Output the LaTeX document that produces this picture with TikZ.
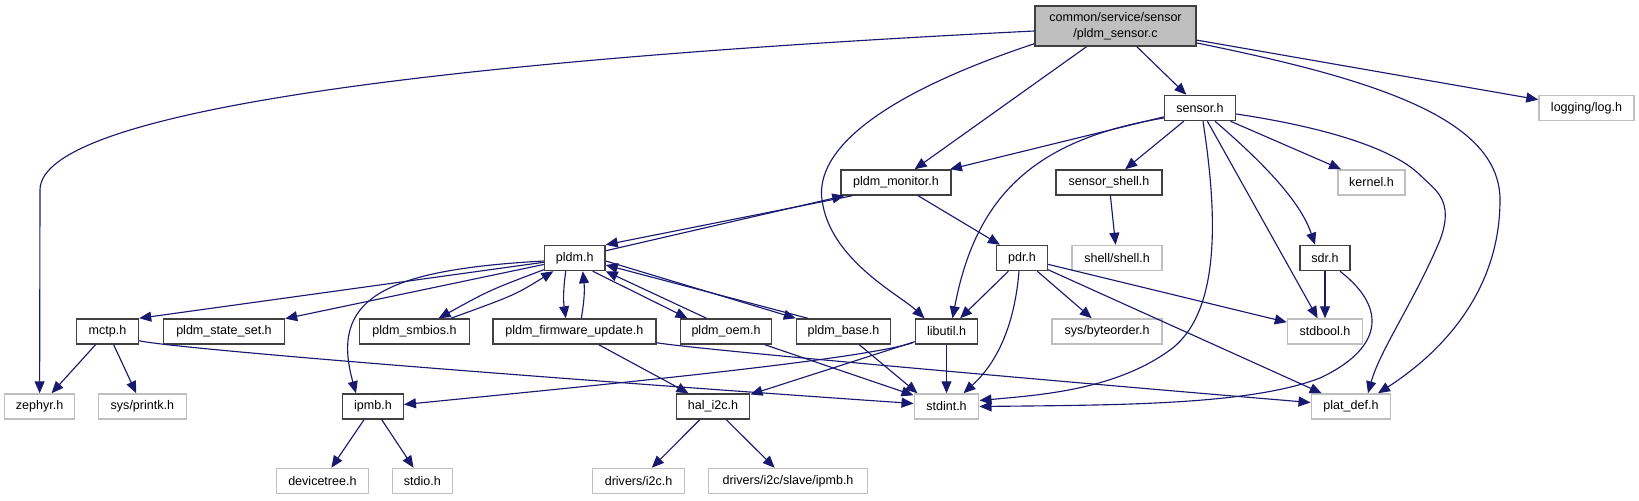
\documentclass[tikz,border=0pt]{standalone}
\usepackage{fontspec}
\setmainfont{Liberation Sans}
\usepackage{xcolor}
\definecolor{edge}{HTML}{191970}
\definecolor{frame}{HTML}{404040}
\definecolor{muted}{HTML}{BFBFBF}
\usepackage{tikz}
\usetikzlibrary{arrows.meta}

\begin{document}
\begin{tikzpicture}[x=0.75pt,y=-0.75pt,font=\fontsize{9.4}{12}\selectfont,
  box/.style={draw,rectangle,inner sep=0pt,minimum height=18.75pt,line width=1.1pt},
  doc/.style={box,draw=frame},
  ext/.style={box,draw=muted},
  dep/.style={edge,line width=0.85pt,-{Triangle[length=9pt,width=7.5pt]}}]
  \useasboundingbox (0,0) rectangle (1639,500);
  \node[doc,fill=muted,minimum width=161*0.75pt,minimum height=30pt,align=center] (root) at (1115.5,26) {common/service/sensor\\/pldm\_sensor.c};
  \foreach \nm/\cx/\cy/\w/\txt/\st in {
    sensor/1200/108/71/sensor.h/doc,
    loglog/1586.5/108/95/{logging/log.h}/ext,
    monitor/896/182.5/110/pldm\_monitor.h/doc,
    shell/1109/182.5/106/sensor\_shell.h/doc,
    kernel/1371.5/182.5/67/kernel.h/ext,
    pldm/574.75/258/60.5/pldm.h/doc,
    pdr/1022/258/50.5/pdr.h/doc,
    shellsh/1117/258/90/{shell/shell.h}/ext,
    sdr/1325/258/50/sdr.h/doc,
    mctp/107.5/331.5/62/mctp.h/doc,
    stateset/224/331.5/121/pldm\_state\_set.h/doc,
    smbios/414.5/331.5/109.5/pldm\_smbios.h/doc,
    fwupd/574.3/331.5/163/pldm\_firmware\_update.h/doc,
    oem/726/331.5/91.5/pldm\_oem.h/doc,
    base/843.5/331.5/94/pldm\_base.h/doc,
    libutil/946.5/331.5/62/libutil.h/doc,
    byteorder/1107/331.5/110/{sys/byteorder.h}/ext,
    stdbool/1325/331.5/75/stdbool.h/ext,
    zephyr/39.6/406.5/70/zephyr.h/ext,
    printk/142.4/406.5/88/{sys/printk.h}/ext,
    ipmb/373/406.5/60.5/ipmb.h/doc,
    hali2c/713/406.5/73.5/hal\_i2c.h/doc,
    stdint/946.5/406.5/64.5/stdint.h/ext,
    platdef/1351/406.5/79.5/plat\_def.h/ext,
    devtree/322.4/481/92/devicetree.h/ext,
    stdio/422.3/481/60/stdio.h/ext,
    i2c/638.6/481/92/{drivers/i2c.h}/ext,
    slaveipmb/788/481/159/{drivers/i2c/slave/ipmb.h}/ext} {
    \node[\st,minimum width=\w*0.75pt] (\nm) at (\cx,\cy) {\txt};
  }
  % pldm_sensor.c
  \draw[dep] ([shift={(0,5)}]root.west) .. controls (450,60) and (40,110) .. (40,190) -- (zephyr);
  \draw[dep] ([shift={(0,-3)}]root.south west) .. controls (880,95) and (815,150) .. (822,200) .. controls (830,260) and (900,295) .. ([shift={(-22,0)}]libutil.north);
  \draw[dep] (root) -- (monitor);
  \draw[dep] (root) -- (sensor);
  \draw[dep] (root) -- (loglog);
  \draw[dep] ([shift={(0,17)}]root.east) .. controls (1380,80) and (1500,120) .. (1500,200) .. controls (1500,300) and (1430,360) .. ([shift={(27,0)}]platdef.north);
  % sensor.h
  \draw[dep] (sensor) -- (monitor);
  \draw[dep] ([shift={(0,10)}]sensor.west) .. controls (1030,140) and (975,200) .. ([shift={(6,0)}]libutil.north);
  \draw[dep] (sensor) -- (shell);
  \draw[dep] (sensor) -- (kernel);
  \draw[dep] ([shift={(15,0)}]sensor.south) .. controls (1260,160) and (1300,200) .. ([shift={(-10,0)}]sdr.north);
  \draw[dep] (sensor) -- (stdbool);
  \draw[dep] ([shift={(3,0)}]sensor.south) .. controls (1215,200) and (1225,310) .. (1170,350) .. controls (1115,390) and (1040,395) .. ([shift={(0,-6)}]stdint.east);
  \draw[dep] ([shift={(0,6)}]sensor.east) .. controls (1330,128) and (1395,150) .. (1420,175) .. controls (1435,190) and (1455,200) .. (1440,240) .. controls (1415,300) and (1380,350) .. ([shift={(17,0)}]platdef.north);
  % pldm_monitor.h, sensor_shell.h
  \draw[dep] ([shift={(0,6)}]pldm.north east) -- ([shift={(4,0)}]monitor.south west);
  \draw[dep] ([shift={(12,0)}]monitor.south west) -- (pldm.north east);
  \draw[dep] (monitor) -- (pdr);
  \draw[dep] (shell) -- (shellsh);
  % pdr.h, sdr.h
  \draw[dep] (pdr) -- (libutil);
  \draw[dep] ([shift={(-3,0)}]pdr.south) .. controls (1015,320) and (1000,360) .. ([shift={(17,0)}]stdint.north);
  \draw[dep] (pdr) -- (byteorder);
  \draw[dep] (pdr) -- (stdbool);
  \draw[dep] (pdr) -- (platdef);
  \draw[dep] (sdr) -- (stdbool);
  \draw[dep] ([shift={(15,0)}]sdr.south) .. controls (1390,310) and (1380,350) .. (1320,378) .. controls (1250,405) and (1120,405) .. (stdint.east);
  % pldm.h
  \draw[dep] (pldm) -- (mctp.north east);
  \draw[dep] (pldm) -- (stateset);
  \draw[dep] (pldm) .. controls (490,290) .. (smbios);
  \draw[dep] (smbios) .. controls (515,295) .. (pldm);
  \draw[dep] ([shift={(0,3)}]pldm.west) .. controls (380,270) and (330,300) .. ([shift={(-17,0)}]ipmb.north);
  \draw[dep] ([shift={(-9,0)}]pldm.south) to[bend right=8] ([shift={(-8.5,0)}]fwupd.north);
  \draw[dep] ([shift={(7,0)}]fwupd.north) to[bend right=8] ([shift={(8,0)}]pldm.south);
  \draw[dep] ([shift={(-13,0)}]pldm.south east) -- ([shift={(8,0)}]oem.north west);
  \draw[dep] ([shift={(27,0)}]oem.north west) -- (pldm.south east);
  \draw[dep] ([shift={(0,3)}]pldm.east) -- (base.north west);
  \draw[dep] ([shift={(12,0)}]base.north west) -- ([shift={(0,7)}]pldm.east);
  % mctp.h, pldm_firmware_update.h, pldm_oem.h, pldm_base.h
  \draw[dep] (mctp) -- (zephyr);
  \draw[dep] (mctp) -- (printk);
  \draw[dep] ([shift={(0,-4)}]mctp.south east) .. controls (170,348) and (500,375) .. ([shift={(0,-3)}]stdint.west);
  \draw[dep] (fwupd) -- (hali2c);
  \draw[dep] ([shift={(0,-2)}]fwupd.south east) .. controls (700,350) and (1100,385) .. ([shift={(0,-4)}]platdef.west);
  \draw[dep] (oem) -- (stdint);
  \draw[dep] (base) -- ([shift={(4,0)}]stdint.north west);
  % libutil.h
  \draw[dep] (libutil) -- (stdint);
  \draw[dep] ([shift={(-2,-2)}]libutil.south west) .. controls (860,360) and (600,385) .. ([shift={(0,-2)}]ipmb.east);
  \draw[dep] (libutil) -- (hali2c);
  % ipmb.h, hal_i2c.h
  \draw[dep] (ipmb) -- (devtree);
  \draw[dep] (ipmb) -- (stdio);
  \draw[dep] (hali2c) -- (i2c);
  \draw[dep] (hali2c) -- (slaveipmb);
\end{tikzpicture}
\end{document}
